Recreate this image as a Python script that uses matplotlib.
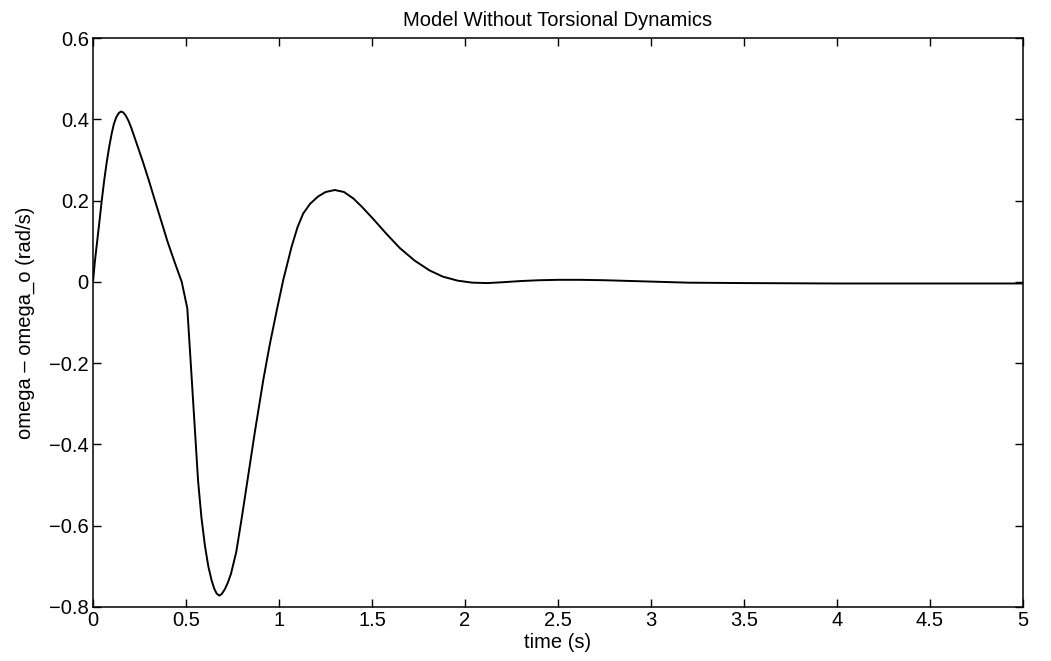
import matplotlib
matplotlib.use('Agg')
import matplotlib.pyplot as plt

# values
time_s = [0.0, 0.01, 0.02, 0.035, 0.047, 0.06, 0.074, 0.087, 0.10, 0.112,
          0.125, 0.138, 0.15, 0.162, 0.175, 0.19, 0.205, 0.22, 0.235, 0.25,
          0.27, 0.30, 0.333, 0.37, 0.40, 0.44, 0.477, 0.507,
          0.531, 0.565, 0.583, 0.602, 0.62, 0.638, 0.652, 0.665, 0.679, 0.692,
          0.708, 0.725, 0.742, 0.77, 0.80, 0.83, 0.87, 0.916, 0.95, 0.988,
          1.023, 1.068, 1.10, 1.13, 1.167, 1.21, 1.25, 1.30, 1.35, 1.40,
          1.445, 1.50, 1.58, 1.65, 1.73, 1.81, 1.88, 1.96, 2.04, 2.12, 2.2,
          2.3, 2.4, 2.5, 2.62, 2.75, 2.9, 3.05, 3.2, 3.5, 4.0, 5.0]
omega_dev = [0.0, 0.05, 0.09, 0.15, 0.20, 0.249, 0.295, 0.332, 0.364, 0.388,
             0.405, 0.415, 0.419, 0.417, 0.41, 0.397, 0.38, 0.36, 0.34, 0.32,
             0.293, 0.25, 0.20, 0.145, 0.10, 0.047, 0.0, -0.065,
             -0.24, -0.49, -0.58, -0.65, -0.70, -0.735, -0.755, -0.767, -0.772, -0.768,
             -0.757, -0.74, -0.718, -0.665, -0.58, -0.49, -0.37, -0.24, -0.155, -0.07,
             0.005, 0.087, 0.135, 0.168, 0.192, 0.21, 0.221, 0.226, 0.221, 0.205,
             0.185, 0.158, 0.117, 0.083, 0.052, 0.028, 0.013, 0.003, -0.002, -0.003, -0.001,
             0.002, 0.004, 0.005, 0.005, 0.004, 0.002, 0.0, -0.002, -0.003, -0.004, -0.004]

x_ticks = [0, 0.5, 1, 1.5, 2, 2.5, 3, 3.5, 4, 4.5, 5]
x_tick_labels = ['0', '0.5', '1', '1.5', '2', '2.5', '3', '3.5', '4', '4.5', '5']
y_ticks = [-0.8, -0.6, -0.4, -0.2, 0, 0.2, 0.4, 0.6]
y_tick_labels = ['\u22120.8', '\u22120.6', '\u22120.4', '\u22120.2', '0', '0.2', '0.4', '0.6']

plt.rcParams['font.family'] = ['Liberation Sans', 'DejaVu Sans']

fig = plt.figure(figsize=(10.51, 6.61), dpi=100)
ax = fig.add_axes([93 / 1051, 1 - 607 / 661, 930 / 1051, 569 / 661])
ax.plot(time_s, omega_dev, color='black', linewidth=1.4)

ax.set_xlim(0, 5)
ax.set_ylim(-0.8, 0.6)
ax.set_xticks(x_ticks)
ax.set_xticklabels(x_tick_labels)
ax.set_yticks(y_ticks)
ax.set_yticklabels(y_tick_labels)
ax.tick_params(direction='in', length=6, width=1, top=True, right=True,
               labelsize=14.5, pad=3, colors='black')
for s in ax.spines.values():
    s.set_linewidth(1.1)

ax.set_title('Model Without Torsional Dynamics', fontsize=14.5, pad=9)
ax.set_xlabel('time (s)', fontsize=14.5, labelpad=2)
ax.set_ylabel('omega \u2013 omega_o (rad/s)', fontsize=14.5, labelpad=10)

plt.savefig('out.png', dpi=100)
plt.close('all')
